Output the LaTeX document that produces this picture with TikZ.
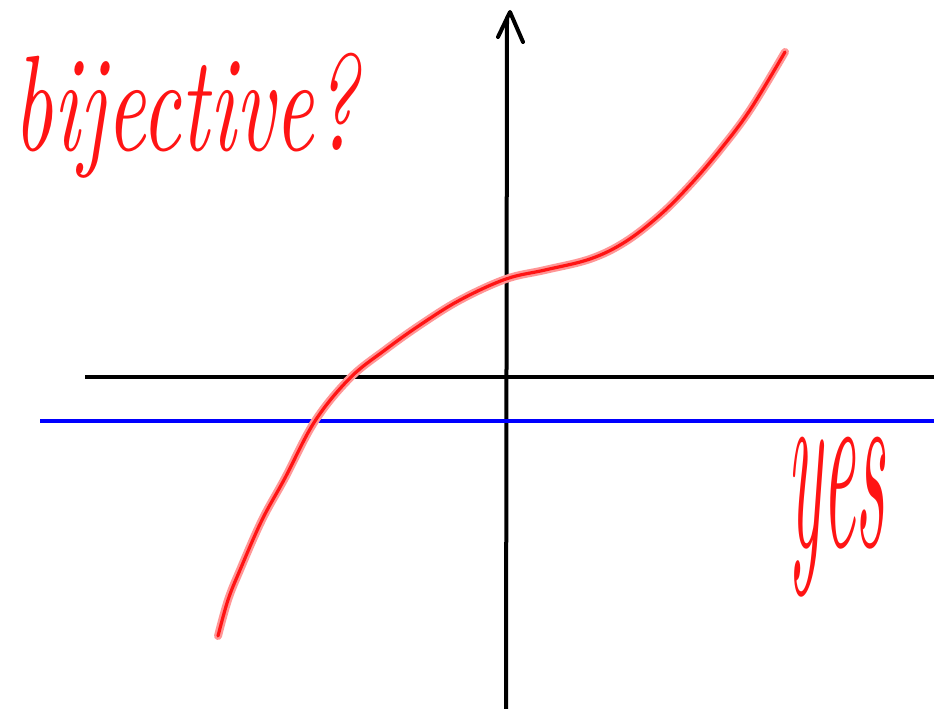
\documentclass[tikz,border=0pt]{standalone}
\usepackage{graphicx}
\definecolor{penred}{RGB}{255,20,20}
\definecolor{halo}{RGB}{255,150,150}
\definecolor{penblue}{RGB}{0,0,255}
\tikzset{
  axis/.style={line width=3pt, black, line cap=round, line join=round},
  blueline/.style={line width=2.4pt, penblue},
  halopen/.style={line width=6pt, halo, line cap=round, line join=round},
  redpen/.style={line width=2.4pt, penred, line cap=round, line join=round},
  hand/.style={inner sep=0pt, text=penred, font=\itshape}
}
\begin{document}
\begin{tikzpicture}[x=0.75pt,y=-0.75pt]
\useasboundingbox (0,0) rectangle (934,709);
% axes
\coordinate (ybot) at (506,709);
\coordinate (ytop) at (507,18);
\coordinate (tip) at (510,12);
\coordinate (hl) at (498,37);
\coordinate (hr) at (523,42);
\coordinate (xl) at (85,377);
\coordinate (xr) at (934,377);
\coordinate (bl) at (40,421);
\coordinate (br) at (934,421);
\draw[axis] (ybot) -- (ytop);
\draw[axis] (hl) -- (tip) -- (hr);
\draw[axis, line cap=butt] (xl) -- (xr);
\draw[blueline] (bl) -- (br);
% curve
\def\curvepts{(218,636) (228,600) (240,570) (262,520) (285,478) (315,421) (350,378) (385,350) (420,325) (460,300) (506,279) (545,270) (590,259) (625,242) (660,215) (690,185) (720,150) (750,110) (785,52)}
\draw[halopen] plot[smooth, tension=0.6] coordinates {\curvepts};
\draw[redpen] plot[smooth, tension=0.6] coordinates {\curvepts};
% texts
\node[hand] (q) at (186,116) {\resizebox{258pt}{73pt}{bijective?}};
\node[hand] (ans) at (836,517) {\resizebox{73pt}{82pt}{yes}};
\end{tikzpicture}
\end{document}
